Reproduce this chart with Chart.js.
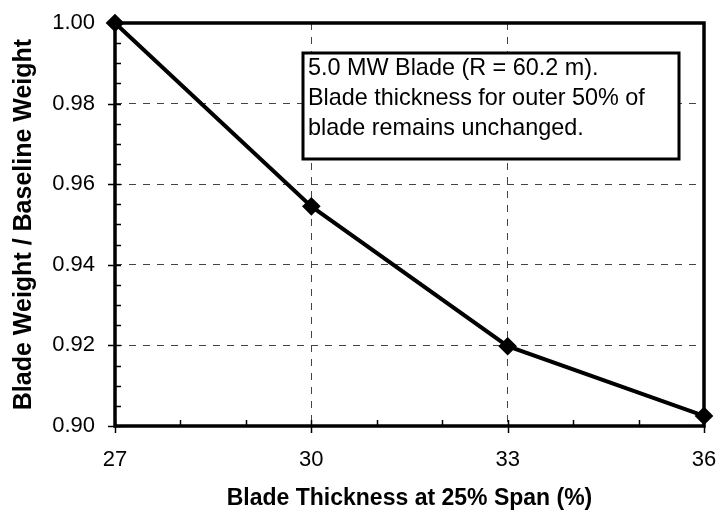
<!DOCTYPE html>
<html>
<head>
<meta charset="utf-8">
<script src="https://cdn.jsdelivr.net/npm/chart.js@4.4.1/dist/chart.umd.min.js"></script>
<style>
  html, body { margin: 0; padding: 0; background: #fff; }
  #wrap { width: 720px; height: 516px; }
</style>
</head>
<body>
<div id="wrap"><canvas id="grafico"></canvas></div>
<script>
// dados
const thickness = [27, 30, 33, 36];
const weightRatio = [1.0, 0.9545, 0.9198, 0.9025];
const xTicks = [27, 30, 33, 36];
const yTicks = [0.90, 0.92, 0.94, 0.96, 0.98, 1.00];
const noteLines = [
  '5.0 MW Blade (R = 60.2 m).',
  'Blade thickness for outer 50% of',
  'blade remains unchanged.'
];

const FONT = 'Liberation Sans, Arial, Helvetica, sans-serif';

// moldura grossa, marcas menores e caixa de texto
const extras = {
  id: 'extras',
  afterDraw(chart) {
    const c = chart.ctx, a = chart.chartArea;
    const x = chart.scales.x, y = chart.scales.y;
    c.save();
    c.strokeStyle = '#000';
    // marcas eixo y
    c.lineWidth = 1.5;
    for (let v = 0.90; v <= 1.0001; v += 0.005) {
      const py = Math.round(y.getPixelForValue(v)) + 0.5;
      const major = Math.abs(v * 50 - Math.round(v * 50)) < 1e-6;
      c.beginPath();
      c.moveTo(a.left - (major ? 7 : 0), py);
      c.lineTo(a.left + 6, py);
      c.stroke();
    }
    // marcas eixo x
    for (let v = 27; v <= 36; v += 1) {
      const px = Math.round(x.getPixelForValue(v)) + 0.5;
      const major = v % 3 === 0;
      c.beginPath();
      c.moveTo(px, a.bottom + (major ? 7 : 0));
      c.lineTo(px, a.bottom - 6);
      c.stroke();
    }
    // moldura
    c.lineWidth = 3.5;
    c.strokeRect(a.left, a.top, a.right - a.left, a.bottom - a.top);

    // caixa de anotação
    const bx = 303, by = 53, bw = 376, bh = 106;
    c.fillStyle = '#fff';
    c.fillRect(bx, by, bw, bh);
    c.lineWidth = 3;
    c.strokeRect(bx, by, bw, bh);
    c.fillStyle = '#000';
    c.font = '23.4px ' + FONT;
    c.textBaseline = 'middle';
    c.textAlign = 'left';
    noteLines.forEach((t, i) => c.fillText(t, bx + 5, by + 16 + i * 30));
    c.restore();
  }
};

const ctx = document.getElementById('grafico');
new Chart(ctx, {
  type: 'line',
  data: {
    datasets: [{
      data: thickness.map((t, i) => ({ x: t, y: weightRatio[i] })),
      borderColor: '#000',
      backgroundColor: '#000',
      borderWidth: 4,
      pointStyle: 'rectRot',
      pointRadius: 6.5,
      pointHoverRadius: 6.5,
      tension: 0,
      clip: false
    }]
  },
  options: {
    responsive: true,
    maintainAspectRatio: false,
    animation: false,
    events: [],
    layout: { padding: { top: 23, right: 16, left: 0, bottom: 0 } },
    plugins: { legend: { display: false }, tooltip: { enabled: false } },
    scales: {
      x: {
        type: 'linear',
        min: 27,
        max: 36,
        afterBuildTicks: s => { s.ticks = xTicks.map(v => ({ value: v })); },
        afterFit: s => { s.height = 90; s.paddingLeft = 0; s.paddingRight = 0; },
        ticks: {
          color: '#000',
          font: { family: FONT, size: 22 },
          padding: 21,
          maxRotation: 0
        },
        grid: {
          color: '#444',
          lineWidth: 1,
          drawTicks: false,
          tickLength: 0
        },
        border: { display: false, dash: [7, 7] },
        title: {
          display: true,
          text: 'Blade Thickness at 25% Span (%)',
          color: '#000',
          font: { family: FONT, size: 23, weight: 'bold' },
          padding: { top: 0 }
        }
      },
      y: {
        min: 0.90,
        max: 1.00,
        afterBuildTicks: s => { s.ticks = yTicks.map(v => ({ value: v })); },
        afterFit: s => { s.width = 115; s.paddingTop = 0; s.paddingBottom = 0; },
        ticks: {
          color: '#000',
          font: { family: FONT, size: 22 },
          padding: 20,
          callback: v => v.toFixed(2)
        },
        grid: {
          color: '#444',
          lineWidth: 1,
          drawTicks: false,
          tickLength: 0
        },
        border: { display: false, dash: [7, 7] },
        title: {
          display: true,
          text: 'Blade Weight / Baseline Weight',
          color: '#000',
          font: { family: FONT, size: 25, weight: 'bold' },
          padding: { top: 9, bottom: 0 }
        }
      }
    }
  },
  plugins: [extras]
});
</script>
</body>
</html>
